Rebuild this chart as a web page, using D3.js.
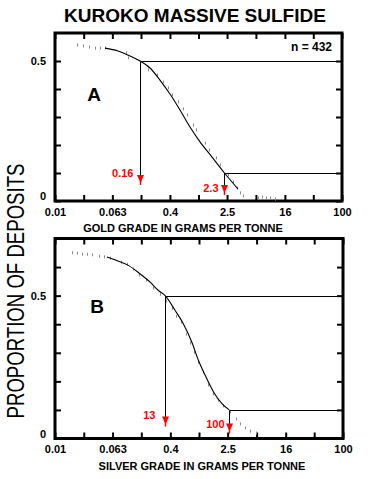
<!DOCTYPE html>
<html><head><meta charset="utf-8">
<script src="https://cdn.jsdelivr.net/npm/d3@7"></script>
<style>
body{margin:0;background:#fff}
svg{display:block}
text{font-family:"Liberation Sans",Arial,Helvetica,sans-serif}
</style>
</head><body>
<svg id="c" width="368" height="479"></svg>
<script>
// ---------- DATA ----------
const xTicks = [0.01, 0.0251, 0.063, 0.158, 0.4, 1, 2.5, 6.31, 16, 39.8, 100];
const xTickLabels = ["0.01", "", "0.063", "", "0.4", "", "2.5", "", "16", "", "100"];
const yTicksA = [0, 0.1, 0.2, 0.3, 0.4, 0.5];
const yTicksB = [0, 0.1, 0.2, 0.3, 0.4, 0.5, 0.6];
const yTickLabelsA = ["0", "", "", "", "", "0.5"];
const yTickLabelsB = ["0", "", "", "", "", "0.5", ""];

// Panel A: gold
const goldCurveGrade = [0.0498, 0.0755, 0.111, 0.153, 0.211, 0.290, 0.401, 0.552, 0.761, 1.049, 1.542, 2.30, 3.55];
const goldCurveProp  = [0.546, 0.536, 0.518, 0.500, 0.475, 0.432, 0.382, 0.325, 0.264, 0.211, 0.157, 0.100, 0.043];
const goldObsGrade = [0.0203, 0.0246, 0.0298, 0.0361, 0.0424, 0.0498, 0.0976, 0.104, 0.153, 0.198, 0.264, 0.320, 0.376, 0.427, 0.518, 0.608, 0.691, 0.838, 0.923, 1.232, 1.401, 1.754, 1.994, 2.577, 3.026, 3.44, 3.79, 4.17, 6.75, 7.67, 8.73, 9.92, 11.65];
const goldObsProp  = [0.557, 0.554, 0.550, 0.546, 0.546, 0.546, 0.529, 0.511, 0.489, 0.468, 0.450, 0.425, 0.404, 0.379, 0.354, 0.329, 0.307, 0.271, 0.254, 0.207, 0.182, 0.154, 0.129, 0.093, 0.068, 0.046, 0.029, 0.018, 0.011, 0.014, 0.011, 0.011, 0.007];
const goldMarkGrade = [0.153, 2.30];
const goldMarkProp  = [0.5, 0.1];
const goldMarkLabel = ["0.16", "2.3"];

// Panel B: silver
const silverCurveGrade = [0.0524, 0.0721, 0.1046, 0.152, 0.2095, 0.2734, 0.339, 0.467, 0.608, 0.796, 0.984, 1.219, 1.591, 2.082, 2.63];
const silverCurveProp  = [0.635, 0.623, 0.606, 0.576, 0.547, 0.518, 0.500, 0.448, 0.401, 0.337, 0.273, 0.221, 0.163, 0.122, 0.100];
const silverObsGrade = [0.0172, 0.0202, 0.0237, 0.0279, 0.0327, 0.0409, 0.048, 0.0582, 0.0828, 0.1003, 0.1216, 0.1474, 0.1843, 0.2307, 0.2886, 0.350, 0.424, 0.482, 0.5655, 0.664, 0.7545, 0.857, 0.975, 1.144, 1.343, 1.576, 1.85, 2.17, 2.716, 3.29, 3.74, 4.39, 5.15, 6.25];
const silverObsProp  = [0.650, 0.649, 0.645, 0.645, 0.643, 0.638, 0.636, 0.631, 0.617, 0.610, 0.593, 0.572, 0.554, 0.526, 0.505, 0.481, 0.456, 0.428, 0.407, 0.365, 0.334, 0.302, 0.267, 0.2325, 0.187, 0.156, 0.135, 0.114, 0.093, 0.068, 0.051, 0.037, 0.026, 0.019];
const silverMarkGrade = [0.339, 2.63];
const silverMarkProp  = [0.5, 0.1];
const silverMarkLabel = ["13", "100"];

// ---------- DRAWING ----------
const svg = d3.select("#c");
const RED = "#ff0000";

svg.append("text").attr("x", 195).attr("y", 22).attr("text-anchor", "middle")
  .attr("font-size", 19).attr("font-weight", "bold").text("KUROKO MASSIVE SULFIDE");

svg.append("text")
  .attr("transform", "translate(24,291) rotate(-90) scale(1,1.28)")
  .attr("text-anchor", "middle").attr("font-size", 18.6).attr("fill", "#000")
  .text("PROPORTION OF DEPOSITS");

function panel(cfg) {
  const x = d3.scaleLog().domain([0.01, 100]).range([55, cfg.right]);
  const y = d3.scaleLinear().domain([0, cfg.ymax]).range([cfg.bottom, cfg.top]);
  const g = svg.append("g");

  // axes with inward ticks
  g.append("g").attr("transform", `translate(0,${cfg.bottom})`)
    .call(d3.axisBottom(x).tickValues(xTicks).tickSize(-6).tickPadding(7)
      .tickFormat((d, i) => xTickLabels[i]));
  g.append("g").attr("transform", `translate(0,${cfg.top})`)
    .call(d3.axisTop(x).tickValues(xTicks).tickSize(-6).tickFormat(""));
  const ay = g.append("g").attr("transform", `translate(55,0)`)
    .call(d3.axisLeft(y).tickValues(cfg.yTicks).tickSize(-6).tickPadding(9)
      .tickFormat((d, i) => cfg.yLabels[i]));
  g.append("g").attr("transform", `translate(${cfg.right},0)`)
    .call(d3.axisRight(y).tickValues(cfg.yTicks).tickSize(-6).tickFormat(""));
  g.selectAll(".domain").remove();
  g.selectAll(".tick line").attr("stroke", "#000").attr("stroke-width", 2);
  g.selectAll(".tick text").attr("font-size", 11).attr("font-weight", "bold")
    .attr("font-family", "'Liberation Sans',Arial,sans-serif").attr("fill", "#000");
  ay.selectAll(".tick text").filter(d => d === 0).attr("dy", "-0.1em");

  // frame
  g.append("rect").attr("x", 55).attr("y", cfg.top)
    .attr("width", cfg.right - 55).attr("height", cfg.bottom - cfg.top)
    .attr("fill", "none").attr("stroke", "#000").attr("stroke-width", 3);

  // observed points as small dashes
  g.append("g").selectAll("line").data(cfg.obsGrade).join("line")
    .attr("x1", d => Math.round(x(d)) + 0.5).attr("x2", d => Math.round(x(d)) + 0.5)
    .attr("y1", (d, i) => y(cfg.obsProp[i]) - 1.5).attr("y2", (d, i) => y(cfg.obsProp[i]) + 1.5)
    .attr("stroke", "#8a8a8a").attr("stroke-width", 1);

  // fitted curve
  const line = d3.line().x(d => x(d[0])).y(d => y(d[1])).curve(d3.curveMonotoneX);
  g.append("path").datum(cfg.curveGrade.map((v, i) => [v, cfg.curveProp[i]]))
    .attr("d", line).attr("fill", "none").attr("stroke", "#000").attr("stroke-width", 1.1);

  // percentile guide lines, arrows, labels
  cfg.markGrade.forEach((gv, i) => {
    const mx = Math.round(x(gv)) + 0.5, my = Math.round(y(cfg.markProp[i])) + 0.5;
    const tip = cfg.bottom - cfg.tipGap[i];
    g.append("line").attr("x1", mx).attr("x2", cfg.right).attr("y1", my).attr("y2", my)
      .attr("stroke", "#000").attr("stroke-width", 1);
    g.append("line").attr("x1", mx).attr("x2", mx).attr("y1", my).attr("y2", tip)
      .attr("stroke", "#000").attr("stroke-width", 1);
    g.append("path").attr("d", `M${mx - 3.5},${tip - 9}L${mx + 3.5},${tip - 9}L${mx},${tip - 1}Z`)
      .attr("fill", RED);
    g.append("line").attr("x1", mx).attr("x2", mx).attr("y1", tip - 9).attr("y2", tip + 1)
      .attr("stroke", RED).attr("stroke-width", 1.5);
    g.append("text").attr("x", mx - cfg.labelDx[i]).attr("y", tip - cfg.labelDy[i])
      .attr("text-anchor", "end").attr("font-size", 11).attr("font-weight", "bold")
      .attr("fill", RED).text(cfg.markLabel[i]);
  });

  // panel letter
  g.append("text").attr("x", cfg.letterX).attr("y", cfg.letterY).attr("text-anchor", "middle")
    .attr("font-size", 19).attr("font-weight", "bold").text(cfg.letter);

  // axis title
  g.append("text").attr("x", cfg.titleX).attr("y", cfg.bottom + 31).attr("text-anchor", "middle")
    .attr("font-size", 11).attr("font-weight", "bold").text(cfg.title);
}

panel({
  top: 33, bottom: 201, right: 342, ymax: 0.6,
  yTicks: yTicksA, yLabels: yTickLabelsA,
  curveGrade: goldCurveGrade, curveProp: goldCurveProp,
  obsGrade: goldObsGrade, obsProp: goldObsProp,
  markGrade: goldMarkGrade, markProp: goldMarkProp, markLabel: goldMarkLabel,
  tipGap: [17, 7], labelDx: [7, 6], labelDy: [7, 2],
  letter: "A", letterX: 94, letterY: 101,
  title: "GOLD GRADE IN GRAMS PER TONNE", titleX: 183
});

panel({
  top: 238.5, bottom: 438.5, right: 343, ymax: 0.7,
  yTicks: yTicksB, yLabels: yTickLabelsB,
  curveGrade: silverCurveGrade, curveProp: silverCurveProp,
  obsGrade: silverObsGrade, obsProp: silverObsProp,
  markGrade: silverMarkGrade, markProp: silverMarkProp, markLabel: silverMarkLabel,
  tipGap: [13, 6], labelDx: [10, 5], labelDy: [7, 5],
  letter: "B", letterX: 97, letterY: 313,
  title: "SILVER GRADE IN GRAMS PER TONNE", titleX: 202
});

svg.append("text").attr("x", 332).attr("y", 51).attr("text-anchor", "end")
  .attr("font-size", 12).attr("font-weight", "bold").text("n = 432");
</script>
</body></html>
